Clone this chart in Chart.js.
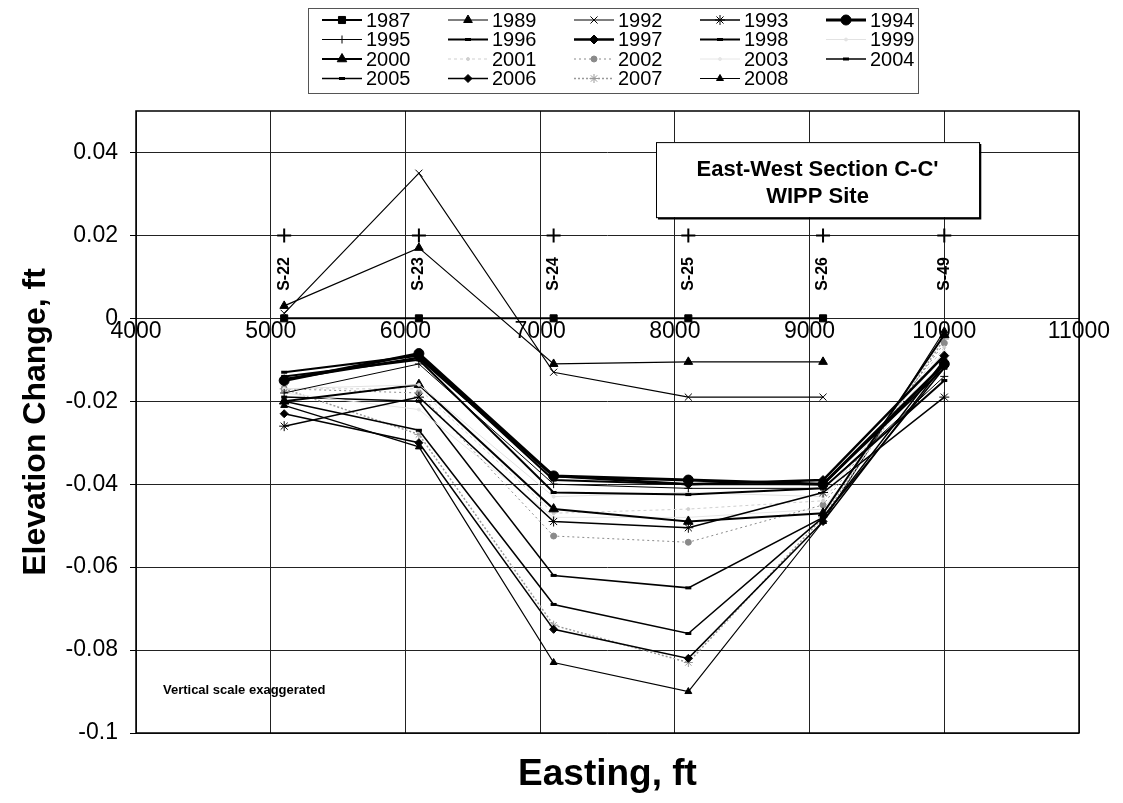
<!DOCTYPE html>
<html>
<head>
    <title>East-West Section C-C'</title>
    <style>
        * { margin: 0; padding: 0; box-sizing: border-box; }
        body { background: #fff; width: 1123px; height: 803px; overflow: hidden; }
    </style>
</head>
<body>
    <canvas id="chart" width="1123" height="803"></canvas>
    <script src="https://cdn.jsdelivr.net/npm/chart.js"></script>
    <script>
        // Estações ao longo da seção (easting, ft)
        var stations = [5100, 6100, 7100, 8100, 9100, 10000];
        var stationNames = ['S-22', 'S-23', 'S-24', 'S-25', 'S-26', 'S-49'];
        var stationMark = [0.02, 0.02, 0.02, 0.02, 0.02, 0.02];

        // Variação de elevação (ft) por ano, na ordem das estações
        var years = ['1987', '1989', '1992', '1993', '1994', '1995', '1996', '1997', '1998', '1999',
                     '2000', '2001', '2002', '2003', '2004', '2005', '2006', '2007', '2008'];
        var e1987 = [0, 0, 0, 0, 0, null];
        var e1989 = [0.003, 0.017, -0.011, -0.0105, -0.0105, null];
        var e1992 = [0.0012, 0.035, -0.013, -0.019, -0.019, null];
        var e1993 = [-0.026, -0.019, -0.049, -0.0505, -0.042, -0.019];
        var e1994 = [-0.015, -0.0085, -0.038, -0.039, -0.040, -0.011];
        var e1995 = [-0.018, -0.011, -0.040, -0.041, -0.041, -0.014];
        var e1996 = [-0.013, -0.009, -0.039, -0.040, -0.040, -0.012];
        var e1997 = [-0.0147, -0.0095, -0.038, -0.040, -0.039, -0.009];
        var e1998 = [-0.014, -0.010, -0.042, -0.0425, -0.041, -0.015];
        var e1999 = [-0.017, -0.016, -0.043, -0.042, -0.043, -0.008];
        var e2000 = [-0.020, -0.016, -0.046, -0.049, -0.047, -0.004];
        var e2001 = [-0.017, -0.017, -0.047, -0.046, -0.044, -0.007];
        var e2002 = [-0.017, -0.018, -0.0525, -0.054, -0.045, -0.006];
        var e2003 = [-0.018, -0.022, -0.048, -0.048, -0.046, -0.008];
        var e2004 = [-0.019, -0.020, -0.062, -0.065, -0.048, -0.010];
        var e2005 = [-0.020, -0.027, -0.069, -0.076, -0.048, -0.012];
        var e2006 = [-0.023, -0.030, -0.075, -0.082, -0.049, -0.011];
        var e2007 = [-0.017, -0.028, -0.074, -0.083, -0.048, -0.005];
        var e2008 = [-0.021, -0.031, -0.083, -0.090, -0.049, -0.003];

        var xTicks = [4000, 5000, 6000, 7000, 8000, 9000, 10000, 11000];
        var yTicks = [-0.1, -0.08, -0.06, -0.04, -0.02, 0, 0.02, 0.04];

        var values = {
            '1987': e1987, '1989': e1989, '1992': e1992, '1993': e1993, '1994': e1994,
            '1995': e1995, '1996': e1996, '1997': e1997, '1998': e1998, '1999': e1999,
            '2000': e2000, '2001': e2001, '2002': e2002, '2003': e2003, '2004': e2004,
            '2005': e2005, '2006': e2006, '2007': e2007, '2008': e2008
        };

        // estilo de cada série (cor, marcador, espessura)
        var styles = {
            '1987': { c: '#000', p: 'rect', r: 5, w: 2 },
            '1989': { c: '#000', p: 'triangle', r: 5, w: 1.2 },
            '1992': { c: '#000', p: 'crossRot', r: 5, w: 1.2 },
            '1993': { c: '#000', p: 'star', r: 5, w: 1.5 },
            '1994': { c: '#000', p: 'circle', r: 5, w: 3 },
            '1995': { c: '#000', p: 'cross', r: 4, w: 1 },
            '1996': { c: '#000', p: 'line', r: 3, w: 2 },
            '1997': { c: '#000', p: 'rectRot', r: 4.5, w: 2.5 },
            '1998': { c: '#000', p: 'line', r: 3, w: 2 },
            '1999': { c: '#e2e2e2', p: 'circle', r: 1.5, w: 1 },
            '2000': { c: '#000', p: 'triangle', r: 5.5, w: 2 },
            '2001': { c: '#cfcfcf', p: 'circle', r: 1.5, w: 1, d: [3, 3] },
            '2002': { c: '#8a8a8a', p: 'circle', r: 3, w: 1, d: [2, 3] },
            '2003': { c: '#e6e6e6', p: 'circle', r: 1.5, w: 1 },
            '2004': { c: '#000', p: 'line', r: 3, w: 1.5 },
            '2005': { c: '#000', p: 'line', r: 3, w: 1.5 },
            '2006': { c: '#000', p: 'rectRot', r: 4, w: 1.5 },
            '2007': { c: '#999', p: 'star', r: 4.5, w: 1.5, d: [2, 2] },
            '2008': { c: '#000', p: 'triangle', r: 4, w: 1.2 }
        };

        var FONT = "'Liberation Sans', Arial, sans-serif";

        var datasets = years.map(function (yr) {
            var s = styles[yr];
            return {
                label: yr,
                data: stations.map(function (x, i) { return { x: x, y: values[yr][i] }; }),
                borderColor: s.c,
                backgroundColor: s.c,
                borderWidth: s.w,
                borderDash: s.d || [],
                pointStyle: s.p,
                pointRadius: s.r,
                pointBorderWidth: s.p === 'line' ? 3 : 1,
                pointBorderColor: s.c,
                pointBackgroundColor: s.c,
                spanGaps: false,
                fill: false
            };
        });

        // marcadores das estações (+) em 0.02
        datasets.push({
            label: 'stations',
            data: stations.map(function (x, i) { return { x: x, y: stationMark[i] }; }),
            showLine: false,
            pointStyle: 'cross',
            pointRadius: 7,
            pointBorderWidth: 2,
            pointBorderColor: '#000',
            borderColor: '#000'
        });

        var boxPlugin = {
            id: 'boxPlugin',
            beforeDatasetsDraw: function (chart) {
                var ctx = chart.ctx, xs = chart.scales.x, ys = chart.scales.y;
                // caixa do título
                var l = xs.getPixelForValue(7860), r = xs.getPixelForValue(10258);
                var t = ys.getPixelForValue(0.0425), b = ys.getPixelForValue(0.0244);
                ctx.save();
                ctx.fillStyle = '#fff';
                ctx.fillRect(l, t, r - l, b - t);
                ctx.strokeStyle = '#000';
                ctx.lineWidth = 1;
                ctx.strokeRect(l + 0.5, t + 0.5, r - l, b - t);
                ctx.lineWidth = 1.5;
                ctx.beginPath();
                ctx.moveTo(l + 2, b + 1.5); ctx.lineTo(r + 1.5, b + 1.5); ctx.lineTo(r + 1.5, t + 2);
                ctx.stroke();
                ctx.fillStyle = '#000';
                ctx.font = 'bold 22px ' + FONT;
                ctx.textAlign = 'center';
                ctx.textBaseline = 'middle';
                ctx.fillText("East-West Section C-C'", (l + r) / 2, t + 28);
                ctx.fillText('WIPP Site', (l + r) / 2, t + 55);

                // nomes das estações
                ctx.font = 'bold 16px ' + FONT;
                stations.forEach(function (x, i) {
                    ctx.save();
                    ctx.translate(xs.getPixelForValue(x), ys.getPixelForValue(0.0107));
                    ctx.rotate(-Math.PI / 2);
                    ctx.fillText(stationNames[i], 0, 0);
                    ctx.restore();
                });

                ctx.font = 'bold 13px ' + FONT;
                ctx.textAlign = 'left';
                ctx.fillText('Vertical scale exaggerated', xs.getPixelForValue(4200), ys.getPixelForValue(-0.0898));
                ctx.restore();
            },
            afterDraw: function (chart) {
                var ctx = chart.ctx, a = chart.chartArea;
                ctx.save();
                ctx.strokeStyle = '#000';
                ctx.lineWidth = 1.5;
                ctx.strokeRect(a.left, a.top, a.right - a.left, a.bottom - a.top);

                // legenda em 5 colunas
                ctx.lineWidth = 1;
                ctx.strokeStyle = '#555';
                ctx.strokeRect(308.5, 8.5, 610, 85);
                ctx.font = '20px ' + FONT;
                ctx.textBaseline = 'middle';
                ctx.textAlign = 'left';
                years.forEach(function (yr, i) {
                    var s = styles[yr];
                    var col = i % 5, row = Math.floor(i / 5);
                    var x0 = 322 + col * 126, y0 = 20 + row * 19.5;
                    ctx.strokeStyle = s.c;
                    ctx.fillStyle = s.c;
                    ctx.lineWidth = s.w;
                    ctx.setLineDash(s.d || []);
                    ctx.beginPath();
                    ctx.moveTo(x0, y0); ctx.lineTo(x0 + 40, y0);
                    ctx.stroke();
                    ctx.setLineDash([]);
                    ctx.lineWidth = s.p === 'line' ? 3 : 1;
                    Chart.helpers.drawPoint(ctx, { pointStyle: s.p, radius: s.r, borderWidth: ctx.lineWidth, rotation: 0 }, x0 + 20, y0);
                    ctx.fillStyle = '#000';
                    ctx.fillText(yr, x0 + 44, y0 + 1);
                });
                ctx.restore();
            }
        };

        var tickFont = { family: FONT, size: 23 };

        new Chart(document.getElementById('chart'), {
            type: 'line',
            data: { datasets: datasets },
            options: {
                responsive: false,
                animation: false,
                layout: { padding: { top: 111, right: 44, left: 0, bottom: 0 } },
                plugins: { legend: { display: false }, tooltip: { enabled: false } },
                elements: { line: { tension: 0 } },
                scales: {
                    x: {
                        type: 'linear',
                        min: 4000, max: 11000,
                        afterBuildTicks: function (s) { s.ticks = xTicks.map(function (v) { return { value: v }; }); },
                        afterFit: function (s) { s.height = 70; },
                        ticks: { display: false },
                        grid: { color: '#222', lineWidth: 1, drawTicks: false },
                        border: { display: false },
                        title: {
                            display: true, text: 'Easting, ft', color: '#000',
                            font: { family: FONT, size: 37, weight: 'bold' },
                            padding: { top: 0, bottom: 6 }
                        }
                    },
                    x2: {
                        type: 'linear',
                        axis: 'x',
                        position: { y: 0 },
                        min: 4000, max: 11000,
                        afterBuildTicks: function (s) { s.ticks = xTicks.map(function (v) { return { value: v }; }); },
                        ticks: { color: '#000', font: tickFont, padding: 0, maxRotation: 0, autoSkip: false,
                                 callback: function (v) { return String(v); } },
                        grid: { display: false, drawTicks: false },
                        border: { display: false }
                    },
                    y: {
                        type: 'linear',
                        min: -0.1, max: 0.05,
                        afterBuildTicks: function (s) { s.ticks = yTicks.map(function (v) { return { value: v }; }); },
                        afterFit: function (s) { s.width = 136; },
                        ticks: { color: '#000', font: tickFont, padding: 12,
                                 callback: function (v) { return String(Number(v.toFixed(2))); } },
                        grid: { color: '#222', lineWidth: 1, tickLength: 6, tickColor: '#000' },
                        border: { display: false },
                        title: {
                            display: true, text: 'Elevation Change, ft', color: '#000',
                            font: { family: FONT, size: 32, weight: 'bold' },
                            padding: { top: 17, bottom: 0 }
                        }
                    }
                }
            },
            plugins: [boxPlugin]
        });
    </script>
</body>
</html>
